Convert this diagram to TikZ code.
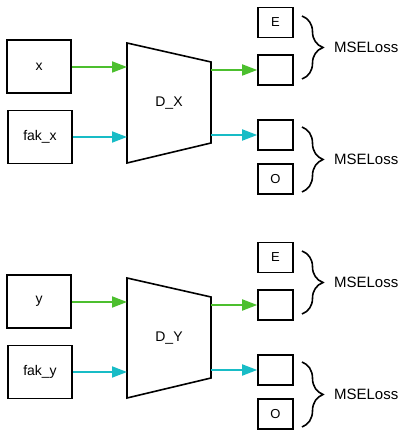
\documentclass[tikz,border=0pt]{standalone}
\usepackage{fontspec}
\setmainfont{Liberation Sans}
\usetikzlibrary{arrows.meta}
\usetikzlibrary{decorations.pathreplacing}

\definecolor{lgreen}{HTML}{4CBF2E}
\definecolor{lcyan}{HTML}{18BCC6}

\tikzset{
  inbox/.style={draw, line width=1.6pt, minimum width=64pt, minimum height=53pt, inner sep=0pt, font=\fontsize{14}{16}\selectfont},
  outbox/.style={draw, line width=1.6pt, minimum width=35pt, minimum height=30pt, inner sep=0pt, font=\fontsize{13}{15}\selectfont},
  garrow/.style={draw=lgreen, line width=1.8pt, -{Triangle[length=15pt,width=11pt]}},
  carrow/.style={draw=lcyan, line width=1.8pt, -{Triangle[length=15pt,width=11pt]}},
  lossbrace/.style={decorate, decoration={brace, amplitude=21pt}, line width=1.6pt},
  losstext/.style={font=\fontsize{15}{17}\selectfont}
}

\begin{document}
\begin{tikzpicture}[x=1pt,y=1pt]
  \useasboundingbox (0,0) rectangle (408,438);

  \foreach \N/\n/\s in {X/x/0, Y/y/235}{
    \begin{scope}[yshift=-\s pt]
      % inputs
      \node[inbox] (in\n) at (39,371.5) {\n};
      \node[inbox] (fak\n) at (40,301) {fak\_\n};

      % discriminator
      \draw[line width=1.6pt] (127,395) -- (211,376) -- (211,295) -- (127,275) -- cycle;
      \coordinate (D\n realin) at (127,371);
      \coordinate (D\n fakin) at (127,301);
      \node[font=\fontsize{14}{16}\selectfont] (D\n) at (169,335) {D\_\N};

      % outputs
      \node[outbox] (E\n) at (275.5,415.5) {E};
      \node[outbox] (real\n) at (275.5,368) {};
      \node[outbox] (fake\n) at (275.5,303) {};
      \node[outbox] (O\n) at (275.5,259) {O};
      \coordinate (D\n realout) at (211,368);
      \coordinate (D\n fakout) at (211,303);

      \draw[garrow] (in\n.east |- D\n realin) -- (D\n realin);
      \draw[carrow] (fak\n.east |- D\n fakin) -- (D\n fakin);
      \draw[garrow] (D\n realout) -- (real\n.west);
      \draw[carrow] (D\n fakout) -- (fake\n.west);

      % losses
      \draw[lossbrace] (302,422) -- (302,359) node[midway, right=28pt, losstext] (lossE\n) {MSELoss};
      \draw[lossbrace] (302,311) -- (302,246) node[midway, right=28pt, losstext] (lossO\n) {MSELoss};
    \end{scope}
  }
\end{tikzpicture}
\end{document}
